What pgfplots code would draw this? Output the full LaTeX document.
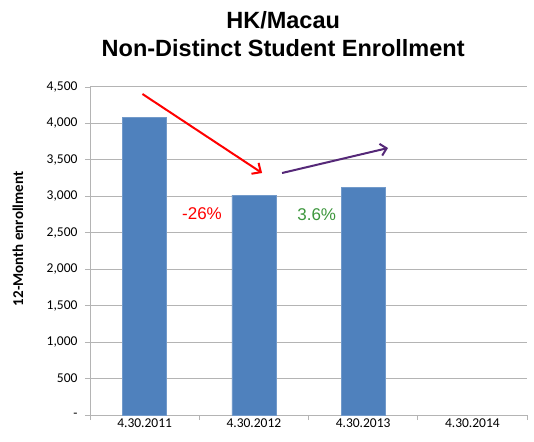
\documentclass[border=0pt]{standalone}
\usepackage{pgfplots}
\pgfplotsset{compat=1.18}
\usetikzlibrary{arrows.meta,calc}
\usepackage{fontspec}
\setmainfont{Carlito}
\newfontfamily\arialfont{Liberation Sans}
\definecolor{barblue}{RGB}{79,129,189}
\definecolor{gridgray}{RGB}{180,180,180}
\definecolor{pctgreen}{RGB}{60,150,60}
\definecolor{arrowpurple}{RGB}{85,40,120}
\begin{document}
\begin{tikzpicture}
\begin{axis}[
  scale only axis,
  width=437pt, height=328pt,
  ybar, bar width=44pt,
  xmin=-0.5, xmax=3.5,
  ymin=0, ymax=4500,
  xtick={-0.5,0.5,1.5,2.5,3.5},
  xticklabels={},
  extra x ticks={0,1,2,3},
  extra x tick labels={4.30.2011,4.30.2012,4.30.2013,4.30.2014},
  extra x tick style={major tick length=0pt, tick label style={font=\fontsize{13.5}{15}\selectfont}},
  ytick={0,500,1000,1500,2000,2500,3000,3500,4000,4500},
  yticklabels={-,500,{1,000},{1,500},{2,000},{2,500},{3,000},{3,500},{4,000},{4,500}},
  tick label style={font=\fontsize{13.5}{15}\selectfont},
  yticklabel style={xshift=-4pt},
  /pgf/number format/assume math mode=true,
  ymajorgrids, grid style={gridgray, line width=1pt},
  axis x line*=bottom, axis y line*=left,
  axis line style={gridgray, line width=0.8pt},
  tick style={gridgray, line width=0.8pt},
  major tick length=5pt,
  tick align=outside,
  clip=false,
]
\addplot[fill=barblue, draw=barblue!80!white] coordinates {(0,4079) (1,3018) (2,3124)};
\draw[-{Straight Barb[length=7pt,width=13pt]}, red, line width=2pt] (axis cs:-0.02,4404) -- (axis cs:1.075,3320);
\draw[-{Straight Barb[length=6pt,width=12pt]}, arrowpurple, line width=2pt] (axis cs:1.258,3320) -- (axis cs:2.228,3663);
\node[red, font=\arialfont\fontsize{17}{19}\selectfont] at (axis cs:0.525,2758) {-26\%};
\node[pctgreen, font=\arialfont\fontsize{17}{19}\selectfont] at (axis cs:1.575,2744) {3.6\%};
\node[font=\arialfont\bfseries\fontsize{23.5}{28}\selectfont, align=center, anchor=south] at (rel axis cs:0.442,1.08) {HK/Macau\\Non-Distinct Student Enrollment};
\coordinate (yl) at (rel axis cs:0,0.537);
\end{axis}
\node[rotate=90, font=\bfseries\fontsize{15}{17}\selectfont] at ([xshift=-72pt]yl) {12-Month enrollment};
\pgfresetboundingbox
\path[use as bounding box] ($(current axis.south west)+(-90pt,-26pt)$) rectangle ($(current axis.north east)+(7pt,87pt)$);
\end{tikzpicture}
\end{document}
